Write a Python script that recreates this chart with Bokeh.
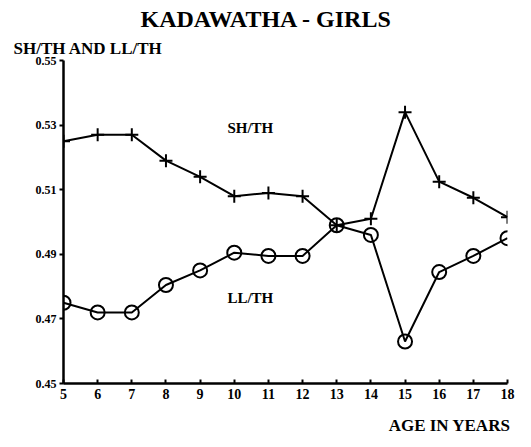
from bokeh.plotting import figure
from bokeh.models import Label, Range1d, FixedTicker, Title, CustomJSTickFormatter
from bokeh.embed import file_html
from bokeh.resources import INLINE

ages = [5, 6, 7, 8, 9, 10, 11, 12, 13, 14, 15, 16, 17, 18]
sh_th = [0.525, 0.527, 0.527, 0.519, 0.514, 0.508, 0.509, 0.508, 0.499, 0.501, 0.534, 0.5125, 0.5075, 0.5015]
ll_th = [0.475, 0.472, 0.472, 0.4805, 0.485, 0.4905, 0.4895, 0.4895, 0.499, 0.496, 0.463, 0.4845, 0.4895, 0.495]
y_ticks = [0.45, 0.47, 0.49, 0.51, 0.53, 0.55]
title_text = "KADAWATHA - GIRLS"
y_label = "SH/TH AND LL/TH"
x_label = "AGE IN YEARS"

FONT = "Liberation Serif"

p = figure(width=531, height=447, output_backend="svg", toolbar_location=None,
           x_range=Range1d(5, 18), y_range=Range1d(0.45, 0.55),
           min_border_left=63, min_border_right=24, min_border_top=60, min_border_bottom=62)
p.outline_line_color = None
p.xgrid.visible = False
p.ygrid.visible = False

p.line(ages, sh_th, line_color="black", line_width=2)
p.scatter(ages, sh_th, marker="cross", size=13, line_color="black", line_width=2)
p.line(ages, ll_th, line_color="black", line_width=2)
p.scatter(ages, ll_th, marker="circle", size=14, line_color="black", line_width=2, fill_alpha=0)

p.xaxis.ticker = FixedTicker(ticks=ages)
p.yaxis.ticker = FixedTicker(ticks=y_ticks)
p.yaxis.formatter = CustomJSTickFormatter(code="return tick.toFixed(2);")
for ax in (p.xaxis[0], p.yaxis[0]):
    ax.axis_line_width = 2.5
    ax.axis_line_color = "black"
    ax.major_tick_line_color = "black"
    ax.major_tick_line_width = 2
    ax.minor_tick_line_color = None
    ax.major_label_text_font = FONT
    ax.major_label_text_font_style = "bold"
    ax.major_label_text_color = "black"
p.xaxis.major_tick_in = 4
p.xaxis.major_tick_out = 0
p.xaxis.major_label_text_font_size = "14px"
p.xaxis.major_label_standoff = 5
p.yaxis.major_tick_in = 0
p.yaxis.major_tick_out = 4
p.yaxis.major_label_text_font_size = "12px"
p.yaxis.major_label_standoff = 3

p.add_layout(Title(text=y_label, align="left", offset=-50, text_font=FONT,
                   text_font_style="bold", text_font_size="17px", text_color="black",
                   standoff=6), "above")
p.add_layout(Title(text=title_text, align="left", offset=77, text_font=FONT,
                   text_font_style="bold", text_font_size="24px", text_color="black",
                   standoff=4), "above")
p.add_layout(Title(text=x_label, align="right", offset=-3, text_font=FONT,
                   text_font_style="bold", text_font_size="17px", text_color="black",
                   standoff=25), "below")

p.add_layout(Label(x=9.8, y=0.529, text="SH/TH",
                   text_font=FONT, text_font_style="bold", text_font_size="15px",
                   text_align="left", text_baseline="middle", text_color="black"))
p.add_layout(Label(x=9.8, y=0.4765, text="LL/TH",
                   text_font=FONT, text_font_style="bold", text_font_size="15px",
                   text_align="left", text_baseline="middle", text_color="black"))

open("out.html", "w").write(file_html(p, INLINE))
